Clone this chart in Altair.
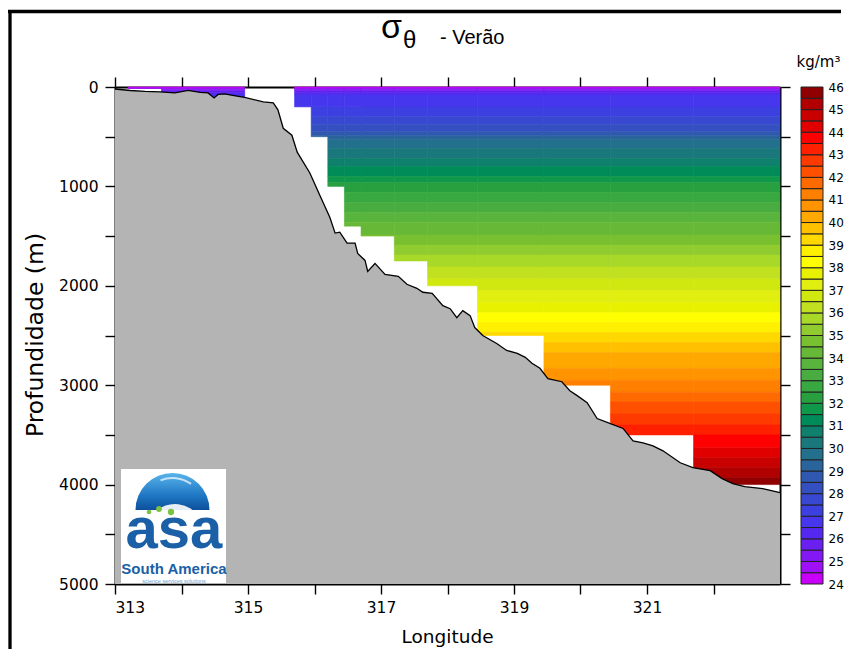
import altair as alt
import pandas as pd

# ---------------------------------------------------------------------------
# Potential density section (summer): sigma contour bands, data columns,
# bathymetry profile
# ---------------------------------------------------------------------------
sigma_level = [24.0, 24.5, 25.0, 25.5, 26.0, 26.5, 27.0, 27.5, 28.0, 28.5,
               29.0, 29.5, 30.0, 30.5, 31.0, 31.5, 32.0, 32.5, 33.0, 33.5,
               34.0, 34.5, 35.0, 35.5, 36.0, 36.5, 37.0, 37.5, 38.0, 38.5,
               39.0, 39.5, 40.0, 40.5, 41.0, 41.5, 42.0, 42.5, 43.0, 43.5,
               44.0, 44.5, 45.0, 45.5]
# depth (m) where each sigma band begins
band_top_depth = [0, 12, 22, 35, 55, 80, 200, 300, 380, 450,
                  490, 530, 620, 720, 800, 900, 960, 1060, 1160, 1260,
                  1360, 1490, 1590, 1690, 1810, 1930, 2050, 2170, 2270, 2370,
                  2470, 2570, 2670, 2830, 2950, 3070, 3170, 3290, 3400, 3500,
                  3630, 3730, 3830, 3930]
deepest_band_bottom = 4100

level_colors = ["#c800fa", "#a010f6", "#8418f4", "#6a20f0", "#5428f0",
                "#4636ee", "#3c40e0", "#3848d0", "#3450c0", "#3058b0",
                "#2a649c", "#22708c", "#1a787c", "#0e806c", "#008c58",
                "#10984a", "#28a040", "#38a840", "#48ac40", "#58b43c",
                "#68b838", "#78c030", "#90cc30", "#a8d828", "#c0e020",
                "#d0e810", "#e0ee10", "#e8f200", "#ffff00", "#fff000",
                "#ffd800", "#ffc000", "#ffa800", "#ff9400", "#ff8000",
                "#ff6a00", "#ff5000", "#ff3a00", "#ff2000", "#ff0000",
                "#e00000", "#c80000", "#b00000", "#900000"]

# station columns: longitude span and deepest sampled level (m)
col_lon_start = [313.20, 313.70, 315.70, 315.95, 316.20, 316.45, 316.70,
                 317.20, 317.70, 318.45, 319.45, 320.45, 321.70]
col_lon_end = [313.70, 314.95, 315.95, 316.20, 316.45, 316.70, 317.20,
               317.70, 318.45, 319.45, 320.45, 321.70, 323.00]
col_bottom_depth = [15, 125, 200, 500, 1000, 1400, 1500,
                    1750, 2000, 2500, 3000, 3500, 4000]

# bottom topography
bathy_lon = [313.00, 313.23, 313.45, 313.68, 313.90, 314.10, 314.28, 314.40,
             314.49, 314.55, 314.65, 314.77, 314.95, 315.23, 315.38, 315.45,
             315.53, 315.66, 315.74, 315.93, 316.08, 316.23, 316.31, 316.38,
             316.49, 316.61, 316.65, 316.76, 316.80, 316.91, 317.06, 317.26,
             317.39, 317.54, 317.63, 317.77, 317.93, 318.04, 318.14, 318.23,
             318.34, 318.41, 318.53, 318.74, 318.89, 319.05, 319.17, 319.27,
             319.39, 319.51, 319.72, 319.84, 319.95, 320.10, 320.25, 320.44,
             320.64, 320.79, 320.94, 321.09, 321.24, 321.50, 321.69, 321.95,
             322.13, 322.29, 322.47, 322.74, 323.00]
bathy_depth = [20, 35, 45, 50, 60, 35, 55, 60,
               110, 75, 70, 85, 105, 150, 160, 230,
               415, 485, 655, 865, 1090, 1310, 1470, 1460,
               1570, 1570, 1675, 1745, 1855, 1775, 1885, 1905,
               1985, 2025, 2065, 2075, 2200, 2230, 2320, 2250,
               2300, 2420, 2500, 2580, 2650, 2680, 2720, 2780,
               2830, 2935, 2965, 3055, 3105, 3175, 3335, 3385,
               3435, 3560, 3580, 3610, 3660, 3780, 3830, 3860,
               3940, 3990, 4020, 4040, 4080]

lon_ticks = [313, 314, 315, 316, 317, 318, 319, 320, 321, 322]
depth_ticks = [0, 500, 1000, 1500, 2000, 2500, 3000, 3500, 4000, 4500, 5000]
colorbar_labels = [24, 25, 26, 27, 28, 29, 30, 31, 32, 33, 34, 35,
                   36, 37, 38, 39, 40, 41, 42, 43, 44, 45, 46]
colorbar_top = 46.0

# ---------------------------------------------------------------------------
# tables
# ---------------------------------------------------------------------------
band_bottom_depth = band_top_depth[1:] + [deepest_band_bottom]
rows = []
for lon0, lon1, col_bot in zip(col_lon_start, col_lon_end, col_bottom_depth):
    for lev, top, bot in zip(sigma_level, band_top_depth, band_bottom_depth):
        if top >= col_bot:
            break
        rows.append({"lon0": lon0, "lon1": lon1, "d0": top,
                     "d1": min(bot, col_bot), "sigma": lev})
bands = pd.DataFrame(rows)

bathy = pd.DataFrame({"lon": bathy_lon, "depth": bathy_depth})
cbar = pd.DataFrame({"lo": sigma_level,
                     "hi": sigma_level[1:] + [colorbar_top],
                     "sigma": sigma_level})

# ---------------------------------------------------------------------------
# scales
# ---------------------------------------------------------------------------
W, H = 665, 497
lon_scale = alt.Scale(domain=[313, 323], nice=False, zero=False)
depth_scale = alt.Scale(domain=[0, 5000], reverse=True, nice=False, zero=False)
sigma_color = alt.Scale(type="threshold", domain=sigma_level[1:], range=level_colors)

label_font = "DejaVu Sans"

bands_layer = alt.Chart(bands).mark_rect(strokeWidth=0.6).encode(
    x=alt.X("lon0:Q", scale=lon_scale,
            axis=alt.Axis(orient="bottom", values=lon_ticks, format="d",
                          labelExpr="datum.value % 2 == 1 ? datum.label : ''",
                          tickSize=10, labelPadding=6,
                          title="Longitude", titleX=W / 2 - 0.5, titleY=52,
                          titleFontSize=18.5,
                          titleAlign="center", titleBaseline="middle")),
    x2="lon1:Q",
    y=alt.Y("d0:Q", scale=depth_scale,
            axis=alt.Axis(orient="left", values=depth_ticks, format="d",
                          labelExpr="datum.value % 1000 == 0 ? datum.label : ''",
                          tickSize=10, labelPadding=7,
                          title="Profundidade (m)", titleAngle=270,
                          titleFontSize=23.5,
                          titleX=-80, titleY=H / 2 - 1, titleAlign="center",
                          titleBaseline="middle")),
    y2="d1:Q",
    color=alt.Color("sigma:Q", scale=sigma_color, legend=None),
    stroke=alt.Stroke("sigma:Q", scale=sigma_color, legend=None),
)

bathy_area = alt.Chart(bathy).mark_area(color="#b4b4b4", opacity=1).encode(
    x=alt.X("lon:Q", scale=lon_scale,
            axis=alt.Axis(orient="top", values=lon_ticks, labels=False,
                          tickSize=10, title=None)),
    y=alt.Y("depth:Q", scale=depth_scale,
            axis=alt.Axis(orient="right", values=depth_ticks, labels=False,
                          tickSize=10, title=None)),
    y2=alt.datum(5000),
)

bathy_line = alt.Chart(bathy).mark_line(color="black", strokeWidth=1.3).encode(
    x=alt.X("lon:Q", scale=lon_scale, axis=None),
    y=alt.Y("depth:Q", scale=depth_scale, axis=None),
)

colorbar = alt.Chart(cbar).mark_rect(stroke="#222222", strokeWidth=1).encode(
    x=alt.value(686), x2=alt.value(708),
    y=alt.Y("lo:Q", scale=alt.Scale(domain=[24, 46], nice=False, zero=False),
            axis=alt.Axis(orient="right", offset=43, values=colorbar_labels,
                          domain=False, ticks=False, labelPadding=5,
                          labelFontSize=12, title="kg/m³", titleAngle=0,
                          titleX=-5, titleY=-21, titleFontSize=15,
                          titleAlign="center", titleBaseline="alphabetic")),
    y2="hi:Q",
    color=alt.Color("sigma:Q", scale=sigma_color, legend=None),
)

one_row = pd.DataFrame({"k": [0]})


def label(text, x, y, size, color="black", weight="normal", align="left",
          font="Liberation Sans"):
    return alt.Chart(one_row).mark_text(
        text=text, fontSize=size, font=font, color=color, fontWeight=weight,
        align=align, baseline="alphabetic").encode(x=alt.value(x), y=alt.value(y))


# heading: sigma-theta - Verão
heading = [
    label("σ", 266, -49, 34),
    label("θ", 288, -39, 24),
    label("- Verão", 325, -43.5, 20),
]

# ASA South America logo
logo_blue = "#1b5fa6"
logo = [
    alt.Chart(one_row).mark_rect(color="white").encode(
        x=alt.value(6), x2=alt.value(111), y=alt.value(382), y2=alt.value(496)),
    alt.Chart(one_row).mark_arc(
        theta=4.7124, theta2=7.8540, radius=37,
        color=alt.Gradient(gradient="linear",
                           stops=[alt.GradientStop(color="#5ab4ea", offset=0),
                                  alt.GradientStop(color="#1f78c4", offset=0.6),
                                  alt.GradientStop(color="#0d4f9c", offset=1)],
                           x1=0, x2=0, y1=0, y2=1)).encode(
        x=alt.value(57.5), y=alt.value(423)),
    alt.Chart(one_row).mark_arc(
        theta=5.5, theta2=7.3, radius=29, radius2=23, color="white", opacity=0.9).encode(
        x=alt.value(60), y=alt.value(446)),
    alt.Chart(one_row).mark_arc(
        theta=5.9, theta2=6.9, radius=33, radius2=31, color="white", opacity=0.7).encode(
        x=alt.value(57.5), y=alt.value(423)),
    alt.Chart(one_row).mark_circle(color="#7cc242", size=22, opacity=1).encode(
        x=alt.value(34), y=alt.value(425)),
    alt.Chart(one_row).mark_circle(color="#7cc242", size=34, opacity=1).encode(
        x=alt.value(44), y=alt.value(422)),
    alt.Chart(one_row).mark_circle(color="#7cc242", size=40, opacity=1).encode(
        x=alt.value(56), y=alt.value(425)),
    label("asa", 59, 461, 58, color=logo_blue, weight="bold", align="center"),
    label("South America", 59, 487, 15, color=logo_blue, weight="bold", align="center"),
    label("science   services   solutions", 59, 496, 5.5, color="#6a9fd4", align="center"),
]

# page frame (top and left edges)
frame = [
    alt.Chart(one_row).mark_rule(color="black", strokeWidth=3.3).encode(
        x=alt.value(-105), y=alt.value(-77), y2=alt.value(562)),
    alt.Chart(one_row).mark_rule(color="black", strokeWidth=3.3).encode(
        x=alt.value(-107), x2=alt.value(726), y=alt.value(-75.5)),
]

chart = alt.layer(
    bands_layer, bathy_area, bathy_line, colorbar, *logo, *heading, *frame
).resolve_scale(
    y="independent"
).resolve_axis(
    x="independent", y="independent"
).properties(
    width=W, height=H,
    autosize=alt.AutoSizeParams(type="none"),
    padding={"left": 115, "top": 87, "right": 67, "bottom": 65},
    background="white",
).configure_view(
    stroke=None
).configure_axis(
    domainColor="black", domainWidth=2, tickColor="black", tickWidth=1.4,
    labelFont=label_font, labelFontSize=15.5, labelColor="black",
    titleFont=label_font, titleFontSize=18, titleColor="black",
    titleFontWeight="normal", grid=False, labelOverlap=False, zindex=1,
)

chart.save("out.html", embed_options={"renderer": "svg", "actions": False})
